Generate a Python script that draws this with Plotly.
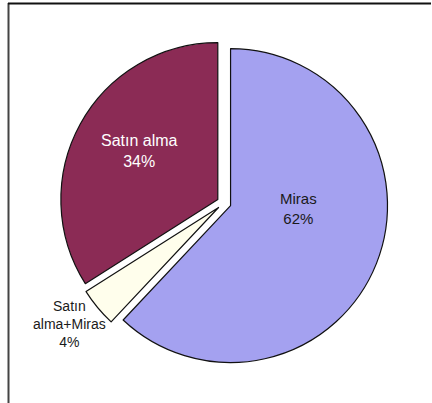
import plotly.graph_objects as go

labels = ["Miras", "Satın alma+Miras", "Satın alma"]
label_lines = ["Miras", "Satın<br>alma+Miras", "Satın alma"]
values = [62, 4, 34]
colors = ["#A4A1F0", "#FFFEEC", "#8B2B55"]
text_colors = ["#1a1a1a", "#1a1a1a", "#ffffff"]
text_sizes = [15, 14, 16]
# label centres in pixels (layout only)
label_pos = [(298, 208), (69, 324), (139, 151)]

W, H = 432, 403
cx, cy, half = 224, 203, 164

total = sum(values)

fig = go.Figure(go.Pie(
    labels=labels,
    values=values,
    sort=False,
    direction="clockwise",
    rotation=0,
    pull=[0.045, 0.045, 0.045],
    marker=dict(colors=colors, line=dict(color="#111111", width=1.2)),
    textinfo="none",
    showlegend=False,
    hoverinfo="label+percent",
    automargin=False,
    domain=dict(x=[(cx - half) / W, (cx + half) / W],
                y=[1 - (cy + half) / H, 1 - (cy - half) / H]),
))

annotations = []
for lab, v, col, sz, (px, py) in zip(label_lines, values, text_colors, text_sizes, label_pos):
    annotations.append(dict(
        text=f"{lab}<br>{round(100 * v / total)}%",
        xref="paper", yref="paper",
        x=px / W, y=1 - py / H,
        xanchor="center", yanchor="middle",
        showarrow=False, align="center",
        font=dict(family="Liberation Sans, Arial, sans-serif", size=sz, color=col),
    ))

fig.update_layout(
    width=W, height=H,
    margin=dict(l=0, r=0, t=0, b=0),
    paper_bgcolor="white",
    plot_bgcolor="white",
    annotations=annotations,
    shapes=[
        dict(type="line", xref="paper", yref="paper",
             x0=8.5 / W, x1=8.5 / W, y0=0, y1=1 - 3 / H,
             line=dict(color="#444444", width=2)),
        dict(type="line", xref="paper", yref="paper",
             x0=8 / W, x1=431 / W, y0=1 - 3.5 / H, y1=1 - 3.5 / H,
             line=dict(color="#111111", width=2)),
    ],
)

fig.write_html(
    "out.html",
    config={"displayModeBar": False},
    post_script="document.body.style.margin='0';",
)
